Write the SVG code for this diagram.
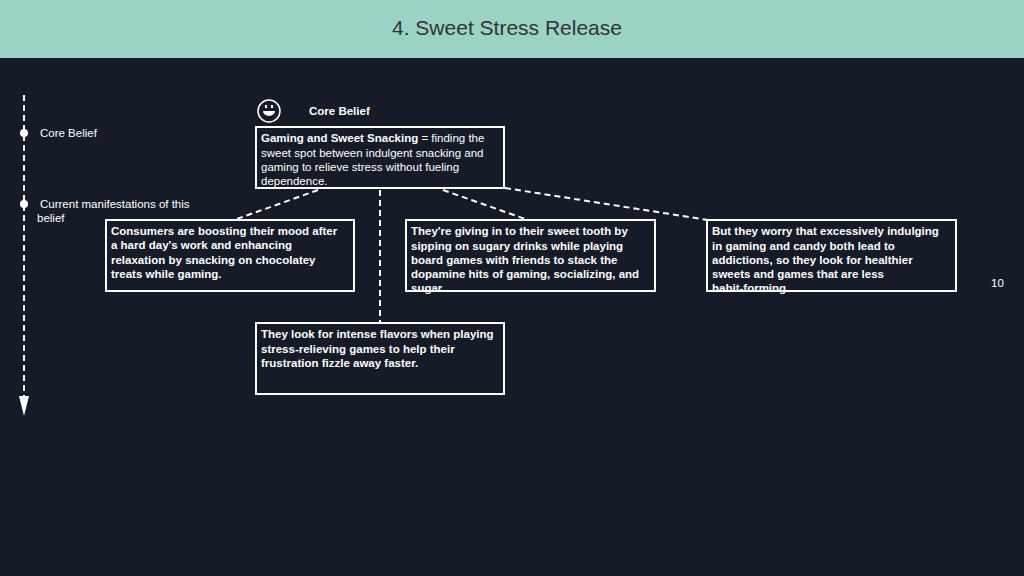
<svg xmlns="http://www.w3.org/2000/svg" width="1024" height="576" viewBox="0 0 1024 576">
<style>
.box{fill:none;stroke:#fff;stroke-width:2}
.t{font-family:"Liberation Sans",Arial,sans-serif;font-size:11.5px;fill:#fff}
.b{font-weight:bold}
.dash{stroke:#fff;stroke-width:2;stroke-dasharray:6 4;fill:none}
</style>
<rect width="1024" height="576" fill="#151c28"/>
<rect width="1024" height="58" fill="#9ad3c6"/>
<text x="507" y="35" text-anchor="middle" font-family="Liberation Sans,Arial,sans-serif" font-size="21" fill="#333">4. Sweet Stress Release</text>
<g id="timeline">
<line x1="24" y1="95" x2="24" y2="400" class="dash"/>
<polygon points="19,396 29,396 24,416" fill="#fff"/>
<circle cx="24" cy="133" r="4" fill="#fff"/>
<circle cx="24" cy="204" r="4" fill="#fff"/>
<text x="40" y="137" class="t" font-size="11">Core Belief</text>
<text x="40" y="208" class="t" font-size="11">Current manifestations of this</text>
<text x="37" y="222" class="t" font-size="11">belief</text>
</g>
<g id="connectors">
<line x1="318" y1="190" x2="234" y2="220" class="dash"/>
<line x1="380" y1="190" x2="380" y2="322" class="dash"/>
<line x1="443" y1="190" x2="528" y2="220" class="dash"/>
<line x1="505" y1="188" x2="708" y2="220" class="dash"/>
</g>
<g id="header">
<circle cx="269" cy="111" r="11" fill="none" stroke="#fff" stroke-width="1.5"/>
<path d="M263 111 h12 a6 5 0 0 1 -12 0z" fill="#fff"/>
<rect x="265" y="105" width="2" height="3" fill="#fff"/><rect x="271" y="105" width="2" height="3" fill="#fff"/>
<text x="309" y="115" class="t b" font-size="12.5">Core Belief</text>
</g>
<g id="core">
<rect x="256" y="127" width="248" height="61" class="box"/>
<text class="t"><tspan x="261" y="142"><tspan class="b">Gaming and Sweet Snacking</tspan> = finding the</tspan><tspan x="261" y="157">sweet spot between indulgent snacking and</tspan><tspan x="261" y="171">gaming to relieve stress without fueling</tspan><tspan x="261" y="185">dependence.</tspan></text>
</g>
<g id="n1">
<rect x="106" y="220" width="248" height="71" class="box"/>
<text class="t b"><tspan x="111" y="235">Consumers are boosting their mood after</tspan><tspan x="111" y="249">a hard day's work and enhancing</tspan><tspan x="111" y="264">relaxation by snacking on chocolatey</tspan><tspan x="111" y="278">treats while gaming.</tspan></text>
</g>
<g id="n2">
<rect x="406" y="220" width="249" height="71" class="box"/>
<text class="t b"><tspan x="411" y="235">They're giving in to their sweet tooth by</tspan><tspan x="411" y="250">sipping on sugary drinks while playing</tspan><tspan x="411" y="264">board games with friends to stack the</tspan><tspan x="411" y="278">dopamine hits of gaming, socializing, and</tspan><tspan x="411" y="292">sugar.</tspan></text>
</g>
<g id="n3">
<rect x="707" y="220" width="249" height="71" class="box"/>
<text class="t b"><tspan x="712" y="235">But they worry that excessively indulging</tspan><tspan x="712" y="250">in gaming and candy both lead to</tspan><tspan x="712" y="264">addictions, so they look for healthier</tspan><tspan x="712" y="278">sweets and games that are less</tspan><tspan x="712" y="292">habit-forming.</tspan></text>
</g>
<g id="n4">
<rect x="256" y="323" width="248" height="71" class="box"/>
<text class="t b"><tspan x="261" y="338">They look for intense flavors when playing</tspan><tspan x="261" y="353">stress-relieving games to help their</tspan><tspan x="261" y="367">frustration fizzle away faster.</tspan></text>
</g>
<text x="991" y="287" class="t" font-size="9">10</text>
</svg>
